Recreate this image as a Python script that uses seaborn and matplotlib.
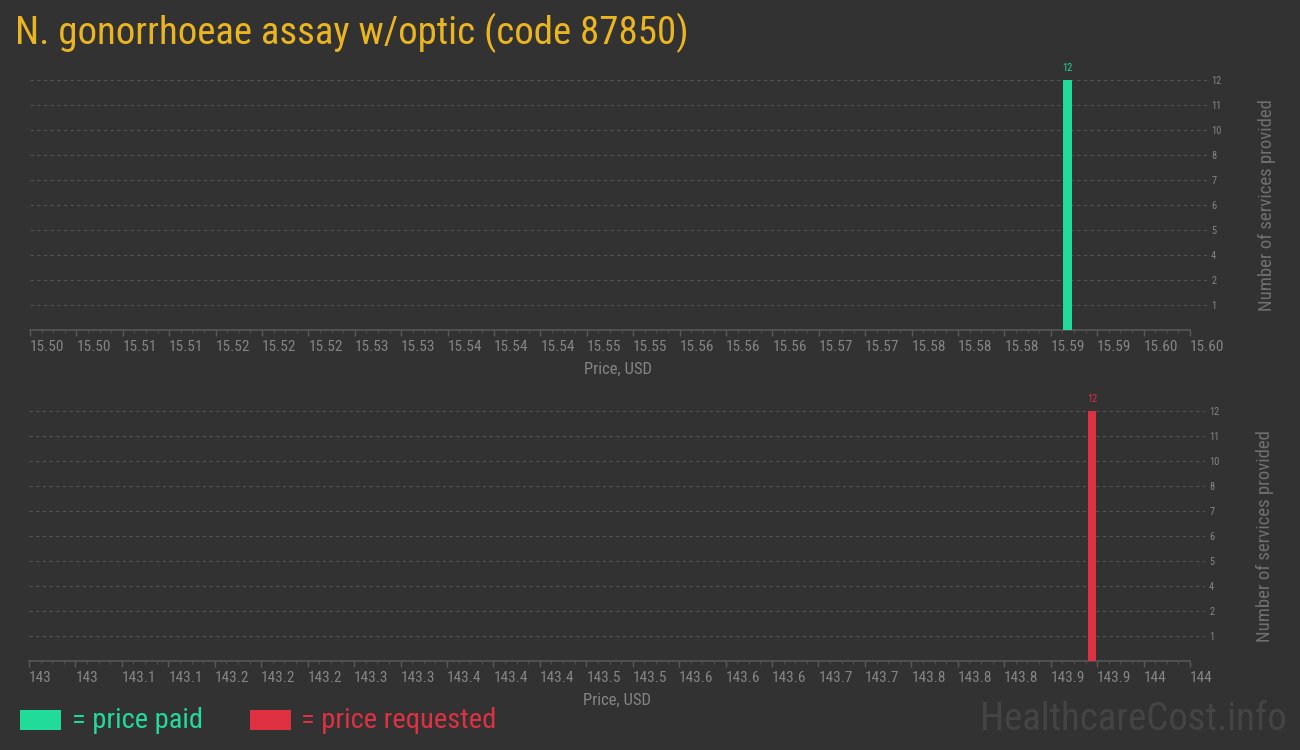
import numpy as np
import pandas as pd
import matplotlib
matplotlib.use("Agg")
import matplotlib.pyplot as plt
import matplotlib.transforms as mtransforms
from matplotlib import font_manager
from matplotlib.patches import Rectangle
import seaborn as sns

# chart data
title = "N. gonorrhoeae assay w/optic (code 87850)"
paid_price = [15.5894]
paid_count = [12]
requested_price = [143.916]
requested_count = [12]

paid_ticks = ["15.50", "15.50", "15.51", "15.51", "15.52", "15.52", "15.52", "15.53", "15.53",
              "15.54", "15.54", "15.54", "15.55", "15.55", "15.56", "15.56", "15.56", "15.57",
              "15.57", "15.58", "15.58", "15.58", "15.59", "15.59", "15.60", "15.60"]
requested_ticks = ["143", "143", "143.1", "143.1", "143.2", "143.2", "143.2", "143.3", "143.3",
                   "143.4", "143.4", "143.4", "143.5", "143.5", "143.6", "143.6", "143.6", "143.7",
                   "143.7", "143.8", "143.8", "143.8", "143.9", "143.9", "144", "144"]
count_ticks = ["1", "2", "4", "5", "6", "7", "8", "10", "11", "12"]

BG = "#323232"
GREEN = "#21db9a"
RED = "#de3141"
GOLD = "#ebb520"
GRID = "#545454"
TXT = "#858585"

available = {f.name for f in font_manager.fontManager.ttflist}


def pick(*names):
    for n in names:
        if n in available:
            return n
    return "DejaVu Sans"


main_font = pick("Roboto Condensed", "Roboto", "Liberation Sans Narrow")
tick_font = pick("Roboto Condensed", "Liberation Sans Narrow", "Roboto")

sns.set_theme(style="dark")
plt.rcParams["font.family"] = [main_font, "DejaVu Sans"]

fig = plt.figure(figsize=(13, 7.5), dpi=100)
fig.patch.set_facecolor(BG)

W, H = 1300.0, 750.0


def make_axes(top_px, left_px, right_px):
    return fig.add_axes([left_px / W, 1 - (top_px + 250) / H, (right_px - left_px) / W, 250 / H])


def style_panel(ax, prices, counts, color, tick_labels, lo, hi, right_px, left_px, bar_w):
    df = pd.DataFrame({"price": prices, "count": counts})
    sns.barplot(data=df, x="price", y="count", native_scale=True, width=bar_w,
                color=color, saturation=1, ax=ax, zorder=3, linewidth=0, edgecolor=color)
    ax.set_facecolor(BG)
    span = (hi - lo) / (1190 - left_px)
    ax.set_xlim(lo, hi + (right_px - 1190) * span)
    ax.set_ylim(0, 12)

    xt = np.linspace(lo, hi, len(tick_labels))
    ax.set_xticks(xt)
    ax.set_xticklabels(tick_labels, fontsize=11, color=TXT, family=[tick_font, "DejaVu Sans"], ha="left")
    off = mtransforms.ScaledTranslation(-5 / 100, 0, fig.dpi_scale_trans)
    for lab in ax.get_xticklabels():
        lab.set_transform(lab.get_transform() + off)
    minor = np.linspace(lo, hi, (len(tick_labels) - 1) * 4 + 1)
    ax.set_xticks(minor, minor=True)
    ax.tick_params(axis="x", which="major", length=4, width=1, color="#5a5a5a", pad=3, bottom=True)
    ax.tick_params(axis="x", which="minor", length=2, width=0.8, color="#4e4e4e", bottom=True)

    yt = np.linspace(1.2, 12, len(count_ticks))
    ax.set_yticks(yt)
    ax.set_yticklabels(count_ticks, fontsize=7.5, color=TXT, family=[tick_font, "DejaVu Sans"])
    ax.yaxis.tick_right()
    ax.tick_params(axis="y", length=0, pad=3)
    ax.yaxis.set_label_position("right")
    ax.set_ylabel("Number of services provided", fontsize=13.5, color="#707070", labelpad=26)
    ax.set_xlabel("Price, USD", fontsize=12, color=TXT, labelpad=6)

    ax.grid(False)
    for y in yt:
        ax.axhline(y, color=GRID, lw=0.8, ls=(0, (3, 3)), zorder=1)
    for s in ["top", "left", "right"]:
        ax.spines[s].set_visible(False)
    ax.spines["bottom"].set_color("#555555")
    ax.spines["bottom"].set_bounds(lo, hi)

    for p, c in zip(prices, counts):
        ax.text(p, c + 0.35, str(c), color=color, fontsize=7.5, ha="center", va="bottom",
                family=[tick_font, "DejaVu Sans"])


ax1 = make_axes(80, 30, 1207)
style_panel(ax1, paid_price, paid_count, GREEN, paid_ticks, 15.50, 15.60, 1207, 30, 0.00078)

ax2 = make_axes(411, 29, 1205)
style_panel(ax2, requested_price, requested_count, RED, requested_ticks, 143.0, 144.0, 1205, 29, 0.0069)

fig.text(15 / W, 1 - 33 / H, title, color=GOLD, fontsize=28, ha="left", va="center")

# legend
fig.patches.append(Rectangle((20 / W, 1 - 730 / H), 41 / W, 20 / H, transform=fig.transFigure,
                             facecolor=GREEN, edgecolor="none"))
fig.text(72 / W, 1 - 720 / H, "= price paid", color=GREEN, fontsize=20.5, ha="left", va="center")
fig.patches.append(Rectangle((250 / W, 1 - 730 / H), 41 / W, 20 / H, transform=fig.transFigure,
                             facecolor=RED, edgecolor="none"))
fig.text(301 / W, 1 - 720 / H, "= price requested", color=RED, fontsize=20.5, ha="left", va="center")

fig.text(1287 / W, 1 - 720 / H, "HealthcareCost.info", color="#444444", fontsize=28,
         ha="right", va="center")

fig.savefig("out.png", dpi=100, facecolor=BG)
